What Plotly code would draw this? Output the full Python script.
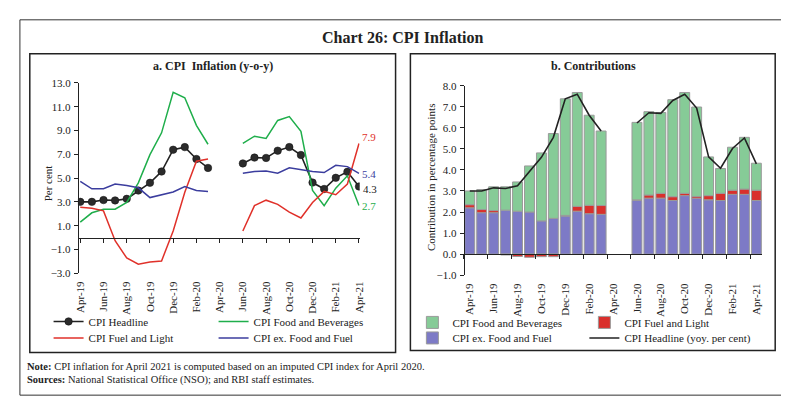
import plotly.graph_objects as go

W, H = 789, 398

months = ["Apr-19","May-19","Jun-19","Jul-19","Aug-19","Sep-19","Oct-19","Nov-19","Dec-19",
          "Jan-20","Feb-20","Mar-20","Apr-20","May-20","Jun-20","Jul-20","Aug-20","Sep-20",
          "Oct-20","Nov-20","Dec-20","Jan-21","Feb-21","Mar-21","Apr-21"]

# Panel a: y-o-y inflation (per cent)
headline = [3.0, 3.0, 3.15, 3.12, 3.25, 3.95, 4.6, 5.55, 7.38, 7.6, 6.6, 5.85,
            None, None, 6.23, 6.72, 6.69, 7.3, 7.6, 6.94, 4.62, 4.08, 5.02, 5.52, 4.29]
food_bev = [1.3, 2.08, 2.38, 2.38, 2.95, 4.6, 6.97, 8.8, 12.2, 11.75, 9.43, 7.84,
            None, None, 7.92, 8.52, 8.33, 9.84, 10.16, 8.93, 3.96, 2.68, 4.15, 5.19, 2.7]
fuel_light = [2.54, 2.46, 2.24, -0.27, -1.72, -2.24, -2.05, -1.97, 0.55, 3.8, 6.42, 6.6,
              None, None, 0.55, 2.68, 3.14, 2.79, 2.13, 1.64, 2.95, 3.88, 3.6, 4.5, 7.9]
core = [4.73, 4.1, 4.1, 4.5, 4.37, 4.18, 3.36, 3.6, 3.83, 4.29, 3.96, 3.88,
        None, None, 5.41, 5.55, 5.6, 5.41, 5.87, 5.68, 5.55, 5.46, 6.07, 5.96, 5.4]

# Panel b: contributions (percentage points)
contrib_core = [2.2, 1.97, 1.97, 2.09, 2.04, 2.0, 1.58, 1.7, 1.81, 2.04, 1.92, 1.89,
                None, None, 2.55, 2.66, 2.66, 2.55, 2.78, 2.66, 2.58, 2.55, 2.84, 2.84, 2.55]
contrib_fuel = [0.15, 0.15, 0.1, -0.04, -0.11, -0.15, -0.12, -0.12, 0.03, 0.23, 0.4, 0.42,
                None, None, 0.03, 0.15, 0.23, 0.18, 0.11, 0.08, 0.2, 0.34, 0.2, 0.25, 0.49]
contrib_food = [0.65, 0.95, 1.13, 1.11, 1.39, 2.19, 3.23, 4.03, 5.54, 5.41, 4.28, 3.54,
                None, None, 3.68, 3.96, 3.84, 4.61, 4.79, 4.25, 1.84, 1.18, 2.04, 2.46, 1.28]

a_yticks = [-3, -1, 1, 3, 5, 7, 9, 11, 13]
b_yticks = [-1, 0, 1, 2, 3, 4, 5, 6, 7, 8]

FONT = "Liberation Serif"
C_BLACK = "#222222"
C_GREEN = "#1fae4b"
C_RED = "#e0312a"
C_BLUE = "#3b3d9e"
B_GREEN = "#86cb97"
B_RED = "#d9302c"
B_PURPLE = "#7d7ac6"

idx = list(range(len(months)))
lab_idx = idx[::2]
lab_txt = months[::2]

def px(x):
    return x / W

def py(y):
    return 1 - y / H

fig = go.Figure()

# ---- Panel a traces
fig.add_trace(go.Scatter(x=idx, y=headline, mode="lines+markers", name="CPI Headline",
                         line=dict(color=C_BLACK, width=1.6),
                         marker=dict(size=7.5, color="#2b2b2b", line=dict(color="#111", width=0.5)),
                         xaxis="x", yaxis="y", legend="legend", legendrank=1))
fig.add_trace(go.Scatter(x=idx, y=food_bev, mode="lines", name="CPI Food and Beverages",
                         line=dict(color=C_GREEN, width=1.5),
                         xaxis="x", yaxis="y", legend="legend", legendrank=2))
fig.add_trace(go.Scatter(x=idx, y=fuel_light, mode="lines", name="CPI Fuel and Light",
                         line=dict(color=C_RED, width=1.5),
                         xaxis="x", yaxis="y", legend="legend2", legendrank=3))
fig.add_trace(go.Scatter(x=idx, y=core, mode="lines", name="CPI ex. Food and Fuel",
                         line=dict(color=C_BLUE, width=1.5),
                         xaxis="x", yaxis="y", legend="legend2", legendrank=4))

# ---- Panel b traces
bar_line = dict(color="#9a9a9a", width=1)
fig.add_trace(go.Bar(x=idx, y=contrib_core, name="CPI ex. Food and Fuel",
                     marker=dict(color=B_PURPLE, line=bar_line),
                     xaxis="x2", yaxis="y2", legend="legend4", legendrank=1))
fig.add_trace(go.Bar(x=idx, y=contrib_fuel, name="CPI Fuel and Light",
                     marker=dict(color=B_RED, line=bar_line),
                     xaxis="x2", yaxis="y2", legend="legend3", legendrank=2))
fig.add_trace(go.Bar(x=idx, y=contrib_food, name="CPI Food and Beverages",
                     marker=dict(color=B_GREEN, line=bar_line),
                     xaxis="x2", yaxis="y2", legend="legend3", legendrank=1))
fig.add_trace(go.Scatter(x=idx, y=headline, mode="lines", name="CPI Headline (yoy. per cent)",
                         line=dict(color=C_BLACK, width=1.6),
                         xaxis="x2", yaxis="y2", legend="legend4", legendrank=2))

# dummy traces to draw zero-line axes with ticks
fig.add_trace(go.Scatter(x=[None], y=[None], xaxis="x3", yaxis="y", showlegend=False, hoverinfo="skip"))
fig.add_trace(go.Scatter(x=[None], y=[None], xaxis="x4", yaxis="y2", showlegend=False, hoverinfo="skip"))

tickfont = dict(family=FONT, size=11, color=C_BLACK)

a_dom_x = [px(66.7), px(351.7)]
a_dom_y = [py(267.3), py(71)]
b_dom_x = [px(457), px(759)]
b_dom_y = [py(269.3), py(74)]
a_range = [-0.2, 24.06]
b_range = [-0.5, 24.5]

legend_common = dict(orientation="h", bgcolor="rgba(0,0,0,0)", borderwidth=0,
                     font=dict(family=FONT, size=11, color=C_BLACK),
                     entrywidthmode="pixels", yanchor="middle", xanchor="left",
                     tracegroupgap=0, itemwidth=30)

fig.update_layout(
    width=W, height=H, margin=dict(l=0, r=0, t=0, b=0),
    paper_bgcolor="white", plot_bgcolor="rgba(0,0,0,0)",
    font=dict(family=FONT, size=11, color=C_BLACK),
    barmode="relative", bargap=0.17,
    xaxis=dict(domain=a_dom_x, range=a_range, anchor="free", position=a_dom_y[0],
               tickmode="array", tickvals=lab_idx, ticktext=lab_txt, tickangle=-90,
               showline=False, ticks="", showgrid=False, zeroline=False,
               tickfont=tickfont, ticklabelstandoff=5),
    xaxis3=dict(domain=a_dom_x, range=a_range, overlaying="x", anchor="free", position=py(230.5),
                tickmode="array", tickvals=lab_idx, showticklabels=False,
                showline=True, linecolor=C_BLACK, linewidth=1.2, ticks="outside", ticklen=4,
                tickcolor=C_BLACK, showgrid=False, zeroline=False),
    yaxis=dict(domain=a_dom_y, range=[-3, 13], anchor="free", position=a_dom_x[0],
               tickmode="array", tickvals=a_yticks, tickformat=".1f",
               showline=True, linecolor=C_BLACK, linewidth=1.2, ticks="outside", ticklen=4,
               tickcolor=C_BLACK, showgrid=False, zeroline=False, tickfont=tickfont,
               ticklabelstandoff=1),
    xaxis2=dict(domain=b_dom_x, range=b_range, anchor="free", position=b_dom_y[0],
                tickmode="array", tickvals=lab_idx, ticktext=lab_txt, tickangle=-90,
                showline=False, ticks="", showgrid=False, zeroline=False,
                tickfont=tickfont, ticklabelstandoff=5),
    xaxis4=dict(domain=b_dom_x, range=b_range, overlaying="x2", anchor="free", position=py(247.7),
                tickmode="array", tickvals=[v - 0.5 for v in lab_idx], showticklabels=False,
                showline=True, linecolor=C_BLACK, linewidth=1.2, ticks="outside", ticklen=4,
                tickcolor=C_BLACK, showgrid=False, zeroline=False),
    yaxis2=dict(domain=b_dom_y, range=[-1, 8], anchor="free", position=b_dom_x[0],
                tickmode="array", tickvals=b_yticks, tickformat=".1f",
                showline=True, linecolor=C_BLACK, linewidth=1.2, ticks="outside", ticklen=4,
                tickcolor=C_BLACK, showgrid=False, zeroline=False, tickfont=tickfont,
                ticklabelstandoff=1),
    legend=dict(legend_common, x=px(37), y=py(317), entrywidth=120),
    legend2=dict(legend_common, x=px(37), y=py(334), entrywidth=120),
    legend3=dict(legend_common, x=px(405), y=py(318), entrywidth=127),
    legend4=dict(legend_common, x=px(405), y=py(334), entrywidth=127),
    showlegend=True,
)

shapes = [
    dict(type="rect", xref="paper", yref="paper", x0=px(8), x1=px(782), y0=py(393), y1=py(6),
         line=dict(color="#333", width=1)),
    dict(type="rect", xref="paper", yref="paper", x0=px(18), x1=px(388), y0=py(349), y1=py(41),
         line=dict(color="#222", width=1.5)),
    dict(type="rect", xref="paper", yref="paper", x0=px(403), x1=px(772), y0=py(347), y1=py(41),
         line=dict(color="#222", width=1.5)),
]
fig.update_layout(shapes=shapes)

ann = [
    dict(text="<b>Chart 26: CPI Inflation</b>", x=px(395), y=py(24), font=dict(size=16)),
    dict(text="<b>a. CPI\u00a0 Inflation (y-o-y)</b>", x=px(203), y=py(54), font=dict(size=12)),
    dict(text="<b>b. Contributions</b>", x=px(588), y=py(54), font=dict(size=12)),
    dict(text="Per cent", x=px(36), y=py(175), textangle=-90, font=dict(size=11)),
    dict(text="Contribution in percentage points", x=px(424), y=py(168), textangle=-90, font=dict(size=11)),
    dict(text="7.9", x=px(352), y=py(127), xanchor="left", font=dict(size=11, color=C_RED)),
    dict(text="5.4", x=px(352), y=py(165), xanchor="left", font=dict(size=11, color=C_BLUE)),
    dict(text="4.3", x=px(353), y=py(180), xanchor="left", font=dict(size=11, color=C_BLACK)),
    dict(text="2.7", x=px(352), y=py(198), xanchor="left", font=dict(size=11, color=C_GREEN)),
    dict(text="<b>Note:</b> CPI inflation for April 2021 is computed based on an imputed CPI index for April 2020.",
         x=px(13), y=py(363), xanchor="left", font=dict(size=10.5)),
    dict(text="<b>Sources:</b> National Statistical Office (NSO); and RBI staff estimates.",
         x=px(13), y=py(377), xanchor="left", font=dict(size=10.5)),
]
for a in ann:
    a.setdefault("xref", "paper")
    a.setdefault("yref", "paper")
    a.setdefault("showarrow", False)
    a.setdefault("xanchor", "center")
    a.setdefault("yanchor", "middle")
    f = a["font"]
    f.setdefault("family", FONT)
    f.setdefault("color", C_BLACK)
fig.update_layout(annotations=ann)

fig.write_html("out.html")
